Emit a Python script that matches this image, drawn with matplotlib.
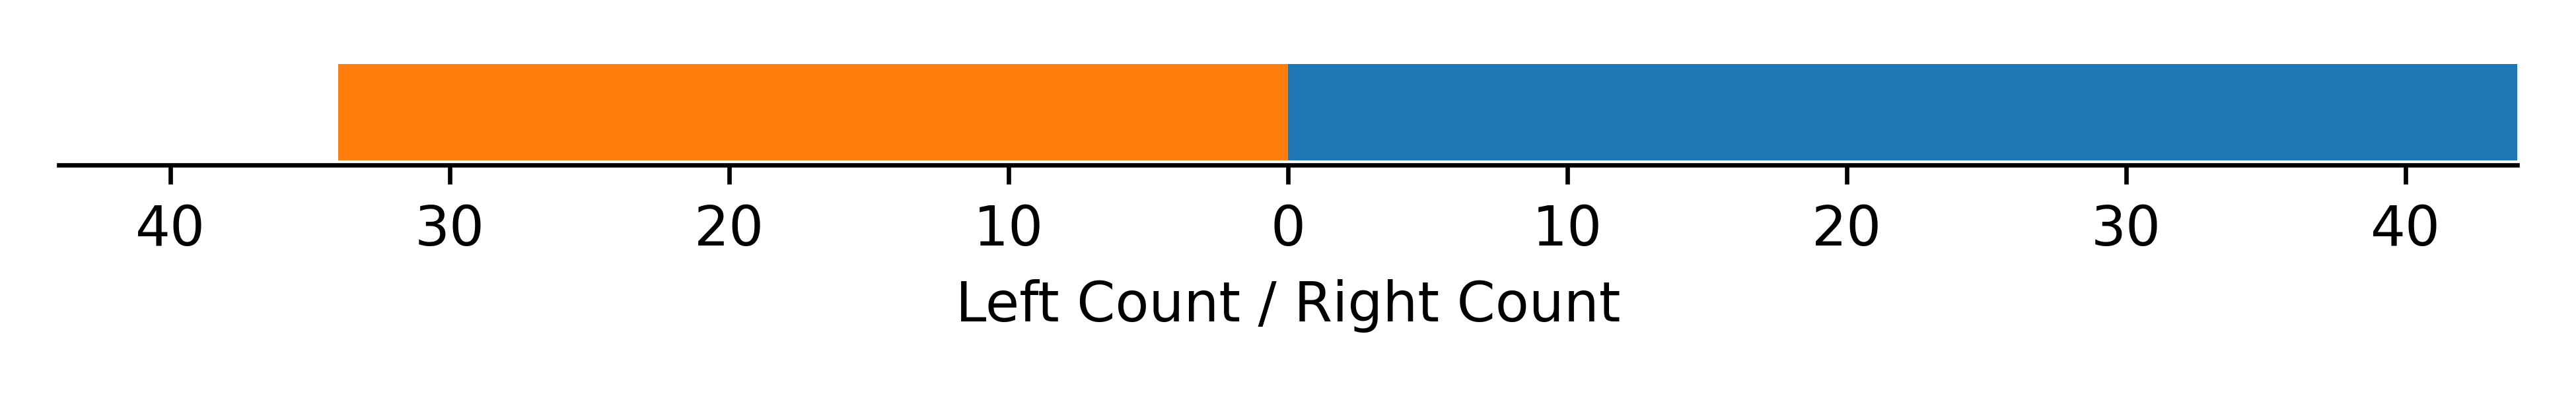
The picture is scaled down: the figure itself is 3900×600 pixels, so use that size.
import numpy as np
import matplotlib
matplotlib.use("Agg")
import matplotlib.pyplot as plt

# data
left_count = [34]
right_count = [44]
ticks = [-40, -30, -20, -10, 0, 10, 20, 30, 40]

fig = plt.figure(figsize=(6.5, 1), dpi=600)
ax = fig.add_axes([0.0228, 0.5833, 0.9544, 0.2556])

ax.barh([0], [-v for v in left_count], height=0.8, color="#ff7f0e")
ax.barh([0], right_count, height=0.8, color="#1f77b4")

lim = max(left_count + right_count)
ax.set_xlim(-lim, lim)
ax.set_ylim(-0.44, 0.4)
ax.set_xticks(ticks)
ax.set_xticklabels([str(abs(t)) for t in ticks])
ax.set_yticks([])
ax.set_xlabel("Left Count / Right Count")
for s in ["top", "left", "right"]:
    ax.spines[s].set_visible(False)

fig.savefig("out.png", dpi=600)
